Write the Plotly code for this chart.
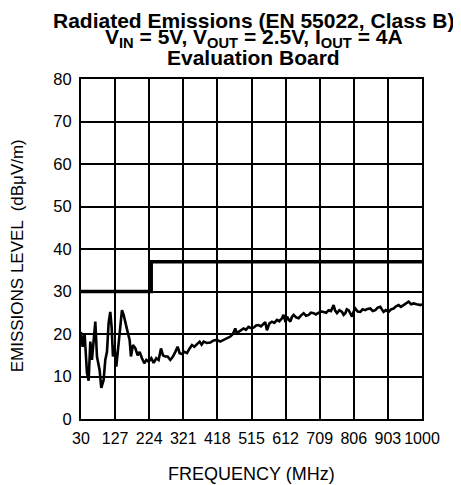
import plotly.graph_objects as go

# Measured emissions trace (MHz, dBuV/m)
freq_mhz = [30, 34.6, 40.3, 47, 51.7, 56.5, 61.2, 65.9, 70.7, 75.4, 83, 87.7, 94.4, 99.1,
            103.9, 108.6, 113.3, 117.1, 120.9, 124.7, 130.4, 137, 141.8, 146.5, 151.3, 157,
            162.6, 168.3, 172.1, 177.8, 184.5, 191.1, 196.8, 203.4, 210, 215.8, 222.4, 230,
            236.6, 244.2, 250.8, 257.5, 263.2, 269.8, 276.4, 284, 291.6, 298.3, 304.9, 310.6,
            317.2, 323.8, 331.4, 339,
            345.6, 352.3, 360, 367.5, 373, 378.8, 388, 397.8, 407, 416.9, 426, 435.6, 445,
            454.7, 462, 468.9, 473, 478.3, 485, 492.5, 499, 506.7, 514, 521, 528, 535.2, 542,
            549.4, 554, 558.9, 566, 573.2, 580, 587.5, 594, 601.7, 606, 612, 616, 620, 625.4,
            630, 634.8, 642, 649, 656, 663.2, 670, 677.5, 684, 691.7, 698, 705.9, 713, 720.1,
            727, 734.4, 741, 748.6, 753, 758.2, 765, 772.4, 777, 782, 786, 791.2, 796, 800.9,
            805, 810.3, 817, 824.5, 831, 838.7, 845, 853, 860, 867.2, 874, 881.4, 886, 890.8,
            897, 905, 912, 919.2, 926, 933.5, 940, 947.7, 955, 961.9, 969, 976.1, 985, 995.2,
            1000]
level_dbuv = [20.5, 17.0, 20.0, 10.8, 9.0, 18.2, 13.9, 19.4, 22.9, 14.7, 11.5, 7.3, 9.2, 13.9,
              15.8, 22.6, 25.2, 21.7, 14.7, 17.4, 12.3, 17.8, 22.1, 25.6, 24.5, 22.1,
              20.5, 18.6, 14.7, 17.4, 16.7, 15.0, 15.8, 14.3, 13.1, 13.9, 13.5, 14.3,
              13.2, 14.3, 13.9, 16.6, 15.0, 14.7, 14.7, 13.9, 14.7, 15.8, 17.0, 15.5,
              15.3, 15.8, 15.5, 16.6,
              17.4, 17.0, 17.6, 18.2, 17.5, 18.2, 17.9, 18.0, 18.5, 18.6, 18.2, 18.6, 19.0,
              19.4, 20.0, 21.3, 20.2, 20.5, 21.0, 21.3, 21.0, 21.7, 21.4, 21.5, 22.0, 22.1, 21.8,
              22.5, 22.8, 20.9, 22.5, 22.9, 22.6, 23.3, 23.0, 23.7, 24.5, 22.8, 24.1, 23.5, 22.9,
              24.0, 24.5, 23.9, 23.7, 24.4, 24.9, 24.3, 24.5, 25.0, 24.9, 24.6, 24.9, 25.3, 25.2,
              25.0, 25.6, 25.4, 26.8, 25.5, 24.9, 25.6, 25.2, 24.5, 24.9, 25.8, 25.6, 25.0, 24.1,
              25.2, 26.0, 25.3, 25.2, 25.8, 25.6, 25.9, 26.0, 25.4, 25.6, 26.2, 26.4, 25.8, 25.2,
              25.6, 25.2, 25.8, 26.0, 26.5, 26.8, 26.4, 26.8, 27.2, 27.6, 27.0, 27.2, 27.0, 26.8,
              27.0]

# EN 55022 Class B limit
limit_freq = [30, 230, 230, 1000]
limit_level = [30, 30, 37, 37]

x_ticks = [30, 127, 224, 321, 418, 515, 612, 709, 806, 903, 1000]
x_tick_labels = ["30", "127", "224", "321", "418", "515", "612", "709", "806", "903", "1000"]
y_ticks = [0, 10, 20, 30, 40, 50, 60, 70, 80]

title_lines = ["Radiated Emissions (EN 55022, Class B)",
               "V<sub>IN</sub> = 5V, V<sub>OUT</sub> = 2.5V, I<sub>OUT</sub> = 4A",
               "Evaluation Board"]
x_title = "FREQUENCY (MHz)"
y_title = "EMISSIONS LEVEL  (dBμV/m)"

FONT = "Arial, Liberation Sans, sans-serif"

fig = go.Figure()
fig.add_trace(go.Scatter(x=limit_freq, y=limit_level, mode="lines",
                         line=dict(color="black", width=3.3), hoverinfo="skip"))
fig.add_trace(go.Scatter(x=freq_mhz, y=level_dbuv, mode="lines",
                         line=dict(color="black", width=2.6)))

# page body has an 8px margin; figure is sized/offset to compensate
fig.update_layout(
    width=453, height=477,
    margin=dict(l=73, r=39, t=71, b=66),
    paper_bgcolor="white", plot_bgcolor="white",
    showlegend=False,
    font=dict(family=FONT, size=16, color="black"),
)
fig.update_xaxes(range=[30, 1000], tickmode="array", tickvals=x_ticks, ticktext=x_tick_labels,
                 tickangle=0, showgrid=True, gridcolor="black", gridwidth=2,
                 showline=True, linecolor="black", linewidth=2, mirror=True,
                 ticks="", ticklabelstandoff=4, zeroline=False,
                 tickfont=dict(size=16))
fig.update_yaxes(range=[0, 80], tickmode="array", tickvals=y_ticks,
                 showgrid=True, gridcolor="black", gridwidth=2,
                 showline=True, linecolor="black", linewidth=2, mirror=True,
                 ticks="", ticklabelstandoff=4, zeroline=False,
                 tickfont=dict(size=16.5))

H = 340.0
def py(p):
    return (419.0 - p) / H

for txt, yc in zip(title_lines, [21.0, 37.5, 57.0]):
    fig.add_annotation(text="<b>" + txt + "</b>", xref="paper", yref="paper",
                       x=0.5 + 2 / 341, y=py(yc), xanchor="center", yanchor="middle",
                       showarrow=False, font=dict(size=21, family=FONT, color="black"))

fig.add_annotation(text=x_title, xref="paper", yref="paper", x=0.5, y=py(474),
                   xanchor="center", yanchor="middle", showarrow=False,
                   font=dict(size=18, family=FONT))
fig.add_annotation(text=y_title, xref="paper", yref="paper", x=(18 - 80.7) / 341, y=py(256),
                   xanchor="center", yanchor="middle", textangle=-90, showarrow=False,
                   font=dict(size=17, family=FONT))

fig.write_html("out.html")
